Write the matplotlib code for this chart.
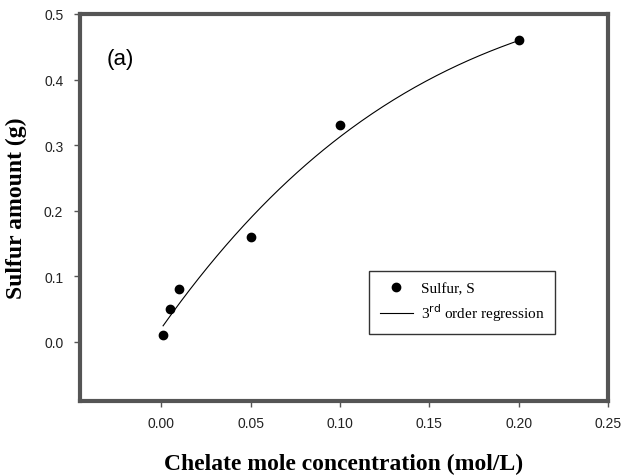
import numpy as np
import matplotlib
matplotlib.use('Agg')
import matplotlib.pyplot as plt

conc = [0.001, 0.005, 0.01, 0.05, 0.10, 0.20]
sulfur = [0.01, 0.05, 0.08, 0.16, 0.33, 0.46]
# regression curve
fit_x = [0.001, 0.0404, 0.0787, 0.0893, 0.10, 0.15, 0.20]
fit_y = [0.025, 0.160, 0.261, 0.290, 0.318, 0.398, 0.460]
xticks = [0.00, 0.05, 0.10, 0.15, 0.20, 0.25]
yticks = [0.0, 0.1, 0.2, 0.3, 0.4, 0.5]

SPINE = '#555555'

fig = plt.figure(figsize=(6.23, 4.77), dpi=100)
ax = fig.add_axes([0.1284, 0.1572, 0.8476, 0.8114])

coef = np.polyfit(fit_x, fit_y, 3)
xf = np.linspace(min(conc), max(conc), 200)
ax.plot(xf, np.polyval(coef, xf), color='black', lw=0.8,
        label='3$^{\\mathrm{rd}}$ order regression')
ax.plot(conc, sulfur, 'o', color='black', ms=6, label='Sulfur, S')

ax.set_xlim(-0.0455, 0.25)
ax.set_ylim(-0.09, 0.5)
ax.set_xticks(xticks)
ax.set_yticks(yticks)
ax.set_xticklabels(['%.2f' % v for v in xticks])
ax.set_yticklabels(['%.1f' % v for v in yticks])

for s in ax.spines.values():
  s.set_linewidth(3)
  s.set_color(SPINE)
ax.tick_params(direction='out', length=4, width=1, color=SPINE, labelsize=10,
               labelcolor='#222222')
for lab in ax.get_xticklabels() + ax.get_yticklabels():
  lab.set_fontfamily('Liberation Sans')
ax.tick_params(axis='x', pad=7)
ax.tick_params(axis='y', pad=8)

ax.set_xlabel('Chelate mole concentration (mol/L)', family='Liberation Serif',
              fontweight='bold', fontsize=17, labelpad=16)
ax.set_ylabel('Sulfur amount (g)', family='Liberation Serif',
              fontweight='bold', fontsize=17, labelpad=12)

ax.text(0.051, 0.884, '(a)', transform=ax.transAxes, family='Liberation Sans',
        fontsize=16, va='center', ha='left')

h, l = ax.get_legend_handles_labels()
leg = ax.legend([h[1], h[0]], [l[1], l[0]], loc='upper left',
                bbox_to_anchor=(0.547, 0.336), borderaxespad=0, frameon=True,
                fancybox=False, edgecolor='black',
                prop={'family': 'Liberation Serif', 'size': 11},
                handlelength=2.2, borderpad=0.7, labelspacing=0.4,
                handletextpad=0.5)
leg.get_frame().set_linewidth(1)

fig.savefig('out.png', dpi=100)
